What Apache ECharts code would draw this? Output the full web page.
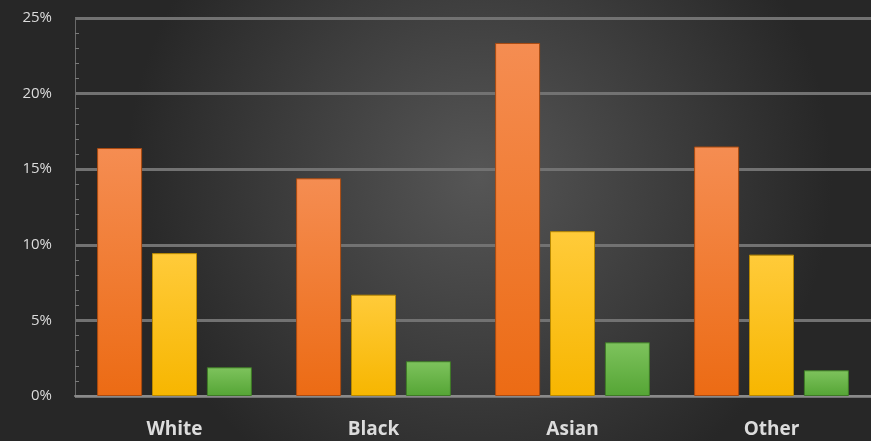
<!DOCTYPE html>
<html><head><meta charset="utf-8">
<script src="https://cdn.jsdelivr.net/npm/echarts@6/dist/echarts.min.js"></script>
<style>html,body{margin:0;padding:0;background:#333;}#c{width:871px;height:441px;}</style>
</head><body><div id="c"></div>
<script>
const categories = ['White', 'Black', 'Asian', 'Other'];
const seriesA = [16.4, 14.4, 23.35, 16.5];
const seriesB = [9.45, 6.7, 10.9, 9.35];
const seriesC = [1.9, 2.3, 3.55, 1.7];
const yTicks = [0, 5, 10, 15, 20, 25];

function grad(top, bottom) {
  return new echarts.graphic.LinearGradient(0, 0, 0, 1, [{offset: 0, color: top}, {offset: 1, color: bottom}]);
}
const chart = echarts.init(document.getElementById('c'));
const bar = (data, top, bottom, border) => ({
  type: 'bar', data: data, barWidth: 45, barGap: '22%', barCategoryGap: '22.5%',
  itemStyle: {color: grad(top, bottom), borderColor: border, borderWidth: 1}
});
chart.setOption({
  backgroundColor: new echarts.graphic.RadialGradient(0.55, 0.4, 0.8, [
    {offset: 0, color: '#565656'}, {offset: 1, color: '#272727'}]),
  animation: false,
  grid: {left: 75, top: 18, width: 800, bottom: 45, containLabel: false},
  xAxis: {
    type: 'category', data: categories,
    axisLine: {lineStyle: {color: '#8a8a8a', width: 2}},
    axisTick: {show: false},
    axisLabel: {color: '#dcdcdc', fontFamily: 'Open Sans', fontWeight: 'bold', fontSize: 19, margin: 24}
  },
  yAxis: {
    type: 'value', min: yTicks[0], max: yTicks[yTicks.length - 1], interval: 5,
    axisLine: {show: true, lineStyle: {color: '#6a6a6a', width: 1}},
    axisTick: {show: false, inside: true},
    minorTick: {show: true, splitNumber: 5, length: 4, lineStyle: {color: '#7a7a7a'}},
    splitLine: {lineStyle: {color: '#727272', width: 3}},
    axisLabel: {color: '#dcdcdc', fontFamily: 'Open Sans', fontSize: 15, margin: 23, formatter: v => v + '%'}
  },
  series: [
    bar(seriesA, '#f58d52', '#ec6b14', '#a94a10'),
    bar(seriesB, '#ffcb3a', '#f7b600', '#b88800'),
    bar(seriesC, '#7ec35d', '#55a535', '#3e7a26')
  ]
});
</script></body></html>
